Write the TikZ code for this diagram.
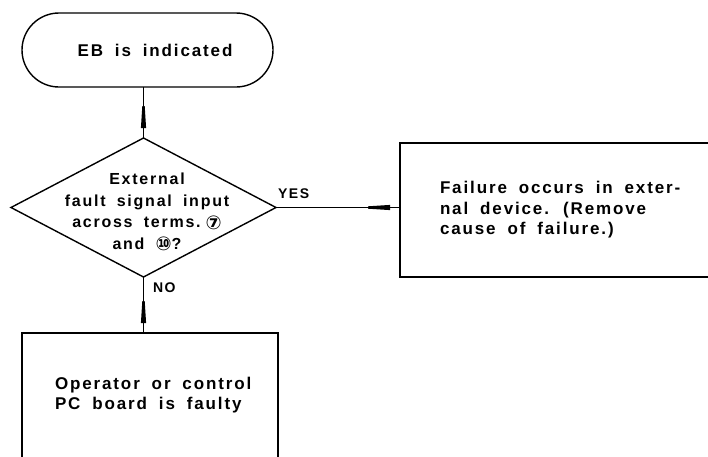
\documentclass[tikz,border=0pt]{standalone}
\usepackage{fontspec}
\setmainfont{Liberation Sans}[LetterSpace=11,WordSpace=1.8]
\newfontfamily\circfont{DejaVu Sans}
\usetikzlibrary{shapes.geometric,shapes.misc,decorations.markings}

\tikzset{
  x=1pt, y=-1pt,
  every node/.style={inner sep=0pt, outer sep=0pt},
  boxline/.style={draw=black, line width=1.4pt},
  terminal/.style={boxline, rounded rectangle, minimum width=251pt, minimum height=74pt},
  decision/.style={boxline, diamond, minimum width=265pt, minimum height=139pt},
  procbox/.style={boxline, rectangle},
  txt/.style={font=\bfseries\fontsize{17}{20.5}\selectfont, align=left},
  dtxt/.style={font=\bfseries\fontsize{16}{21.5}\selectfont, align=center},
  lbl/.style={font=\bfseries\fontsize{14}{16}\selectfont},
  flow/.style={line width=1.4pt, postaction={decorate},
    decoration={markings, mark=at position -10pt with {
      \fill (-22pt,-1.2pt) -- (0pt,-2.6pt) -- (0pt,2.6pt) -- (-22pt,1.2pt) -- cycle;}}},
}
\newcommand{\circnumber}[1]{\raisebox{-1.2pt}{\circfont\fontsize{19}{20}\selectfont #1}}

\begin{document}
\begin{tikzpicture}
\useasboundingbox (0,0) rectangle (708,456);
\clip (0,0) rectangle (708,456);

\node[terminal] (start) at (147.5,50) {};
\node[txt] (starttext) at (155,50) {EB is indicated};

\node[decision] (q) at (143.5,207.5) {};
\node[dtxt] (qtext) at (147,212) {External\\fault signal input\\across terms.\hspace{5pt}\circnumber{⑦}\\and \circnumber{⑩}?};

\node[procbox, minimum width=330pt, minimum height=134pt] (yesbox) at (565,210) {};
\node[txt, anchor=west] (yestext) at (440,210) {Failure occurs in exter-\\nal device. (Remove\\cause of failure.)};

\node[procbox, minimum width=256pt, minimum height=160pt] (nobox) at (150,413) {};
\node[txt, anchor=west] (notext) at (55,395) {Operator or control\\PC board is faulty};

\draw[flow] (start.south -| q.north) -- (q.north);
\draw[flow] (q.east) -- (q.east -| yesbox.west);
\draw[flow] (q.south) -- (q.south |- nobox.north);

\node[lbl, anchor=west] (yes) at (278,194) {YES};
\node[lbl, anchor=west] (no) at (153,287.5) {NO};
\end{tikzpicture}
\end{document}
